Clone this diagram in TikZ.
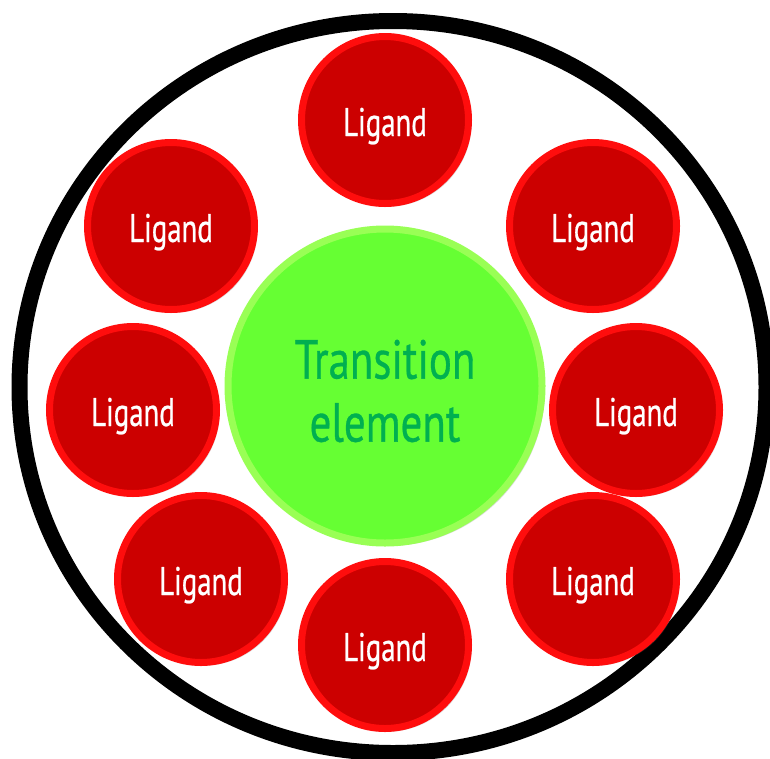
\documentclass[tikz,border=0pt]{standalone}
\usepackage{fontspec}
\usetikzlibrary{shadows}
\newfontfamily\ligfont[FakeStretch=0.72,FakeBold=0.6]{PT Sans}
\newfontfamily\tmfont[FakeStretch=0.78,FakeBold=0.6]{PT Sans}
\definecolor{ligfill}{HTML}{CC0000}
\definecolor{ligring}{HTML}{FF0D0D}
\definecolor{tmfill}{HTML}{66FF33}
\definecolor{tmring}{HTML}{99FF55}
\definecolor{tmtext}{HTML}{00B050}
\tikzset{
  ligandnode/.style={circle, draw=ligring, fill=ligfill, line width=7pt,
    minimum size=167pt, inner sep=0pt, text=white,
    text height=32pt, text depth=0pt,
    font=\ligfont\fontsize{40}{44}\selectfont,
    drop shadow={shadow xshift=3pt, shadow yshift=-3pt, opacity=0.25, fill=black!60}},
  metalnode/.style={circle, draw=tmring, fill=tmfill, line width=7pt,
    minimum size=314pt, inner sep=0pt,
    drop shadow={shadow xshift=3pt, shadow yshift=-3pt, opacity=0.25, fill=black!60}},
  metaltext/.style={text=tmtext, align=center, inner sep=0pt,
    font=\tmfont\fontsize{55}{63}\selectfont},
  outerring/.style={draw=black, line width=16pt}
}
\begin{document}
\begin{tikzpicture}[x=1pt,y=-1pt]
\useasboundingbox (0,0) rectangle (770,758);
\clip (0,0) rectangle (770,758);
\draw[outerring] (393,387) ellipse [x radius=373.5, y radius=366];
\node[metalnode] (tm) at (385,386) {};
\node[metaltext] (tmlabel) at ([yshift=-5pt]tm.center) {Transition\\element};
\node[ligandnode] (l1) at (385,120) {Ligand};
\node[ligandnode] (l2) at (593,226) {Ligand};
\node[ligandnode] (l3) at (636,410) {Ligand};
\node[ligandnode] (l4) at (593,579) {Ligand};
\node[ligandnode] (l5) at (385,645) {Ligand};
\node[ligandnode] (l6) at (201,579) {Ligand};
\node[ligandnode] (l7) at (133,410) {Ligand};
\node[ligandnode] (l8) at (171,226) {Ligand};
\end{tikzpicture}
\end{document}
